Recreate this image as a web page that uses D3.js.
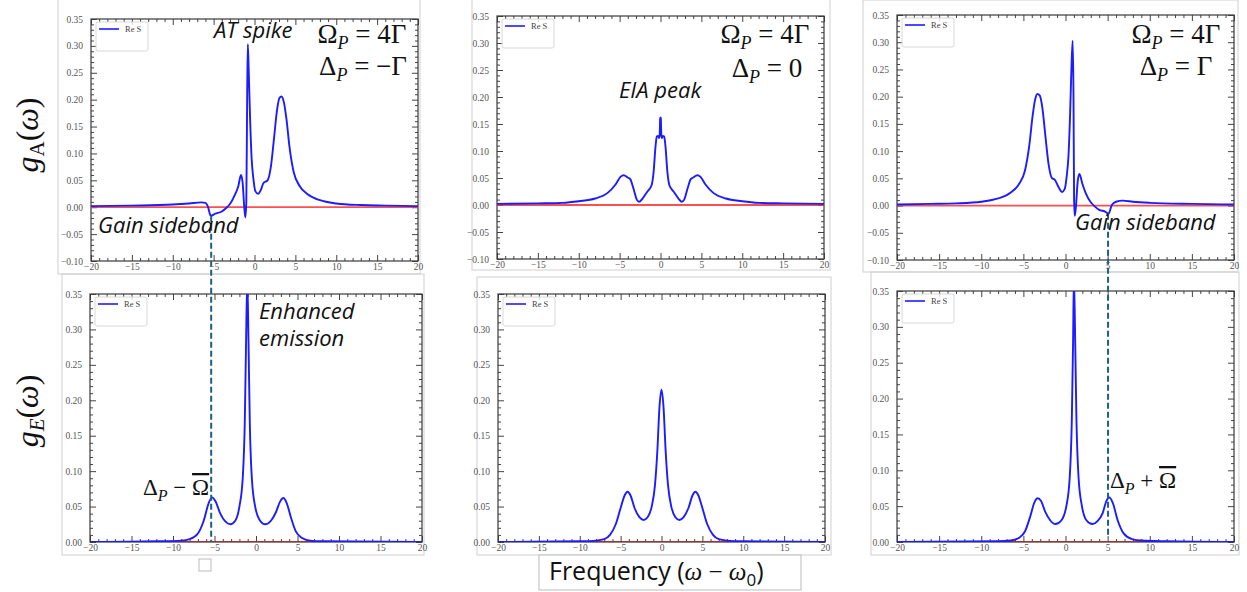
<!DOCTYPE html>
<html>
<head>
<meta charset="utf-8">
<script src="https://cdn.jsdelivr.net/npm/d3@7"></script>
<style>
  body { margin: 0; background: #fff; }
  .tick text { font-family: "Liberation Serif", serif; font-size: 9.5px; fill: #555; }
  .tick line { stroke: #444; }
  .ann { font-family: "Open Sans", sans-serif; font-style: italic; font-size: 22px; fill: #111; }
  .mth { font-family: "Liberation Serif", serif; font-size: 27px; fill: #111; }
</style>
</head>
<body>
<script>
// spectra, [omega - omega0, Re S]
var zeroLine = [[-20, 0], [20, 0]];

var gA_minus = [[-20,0.002],[-15,0.003],[-10,0.005],[-8,0.007],[-6.5,0.009],[-6,0.008],[-5.7,0.001],
  [-5.35,-0.016],[-4.8,-0.012],[-4,-0.008],[-3.5,-0.002],[-3,0.006],[-2.4,0.023],[-2,0.038],[-1.65,0.06],
  [-1.45,0.045],[-1.25,0.0],[-1.12,-0.019],[-1.0,0.01],[-0.9,0.2],[-0.82,0.303],[-0.7,0.25],[-0.55,0.17],
  [-0.35,0.09],[-0.15,0.055],[0.1,0.03],[0.45,0.025],[0.8,0.033],[1.1,0.045],[1.6,0.05],[2.0,0.075],
  [2.4,0.13],[2.75,0.18],[3.05,0.203],[3.3,0.206],[3.6,0.195],[3.9,0.165],[4.3,0.11],[4.8,0.065],
  [5.5,0.04],[6.5,0.024],[8,0.013],[10,0.007],[13,0.004],[16,0.003],[20,0.002]];

var gA_zero = [[-20,0.002],[-15,0.003],[-12,0.004],[-10,0.007],[-8,0.012],[-6.5,0.022],[-5.5,0.038],
  [-4.9,0.052],[-4.5,0.055],[-4.0,0.051],[-3.7,0.048],[-3.3,0.03],[-2.9,0.01],[-2.6,0.006],[-2.2,0.012],
  [-1.6,0.025],[-1.1,0.036],[-0.85,0.06],[-0.6,0.11],[-0.45,0.127],[-0.3,0.128],[-0.18,0.124],[-0.1,0.13],
  [-0.04,0.16],[0,0.162],[0.04,0.16],[0.1,0.13],[0.18,0.124],[0.3,0.128],[0.45,0.127],[0.6,0.11],
  [0.85,0.06],[1.1,0.036],[1.6,0.025],[2.2,0.012],[2.6,0.006],[2.9,0.01],[3.3,0.03],[3.7,0.048],
  [4.0,0.051],[4.5,0.055],[4.9,0.052],[5.5,0.038],[6.5,0.022],[8,0.012],[10,0.007],[12,0.004],
  [15,0.003],[20,0.002]];

var gA_plus = [[-20,0.002],[-16,0.003],[-13,0.004],[-10,0.007],[-8,0.013],[-6.5,0.024],[-5.5,0.04],
  [-4.8,0.065],[-4.3,0.11],[-3.9,0.165],[-3.6,0.195],[-3.35,0.205],[-3.05,0.202],[-2.75,0.18],[-2.4,0.13],
  [-2.0,0.075],[-1.6,0.05],[-1.3,0.048],[-0.8,0.033],[-0.4,0.025],[-0.1,0.03],[0.15,0.055],[0.35,0.09],
  [0.55,0.17],[0.7,0.25],[0.85,0.303],[0.95,0.2],[1.02,0.01],[1.1,-0.019],[1.25,0.0],[1.45,0.045],
  [1.65,0.058],[2.0,0.04],[2.4,0.023],[3.0,0.006],[3.5,-0.002],[4.0,-0.008],[4.7,-0.011],[5.1,-0.015],
  [5.5,0.001],[6,0.007],[6.8,0.009],[8,0.007],[10,0.005],[15,0.003],[20,0.002]];

var gE_minus = [[-20,0],[-12,0.001],[-9,0.002],[-8,0.004],[-7,0.012],[-6.3,0.03],[-5.7,0.055],[-5.3,0.063],
  [-4.9,0.058],[-4.3,0.04],[-3.7,0.029],[-3.1,0.025],[-2.5,0.03],[-2.0,0.05],[-1.6,0.09],[-1.35,0.17],
  [-1.2,0.28],[-1.05,0.37],[-0.9,0.28],[-0.75,0.17],[-0.5,0.09],[-0.1,0.05],[0.5,0.03],[1.1,0.025],
  [1.8,0.03],[2.4,0.042],[2.9,0.057],[3.3,0.062],[3.7,0.055],[4.2,0.035],[4.8,0.015],[5.5,0.006],
  [6.5,0.002],[8,0.001],[20,0]];

var gE_zero = [[-20,0],[-10,0.001],[-8,0.002],[-7,0.004],[-6.3,0.01],[-5.6,0.025],[-5.0,0.048],[-4.5,0.066],
  [-4.15,0.071],[-3.8,0.066],[-3.3,0.048],[-2.7,0.035],[-2.2,0.031],[-1.7,0.035],[-1.2,0.05],[-0.8,0.08],
  [-0.5,0.13],[-0.25,0.19],[0,0.215],[0.25,0.19],[0.5,0.13],[0.8,0.08],[1.2,0.05],[1.7,0.035],[2.2,0.031],
  [2.7,0.035],[3.3,0.048],[3.8,0.066],[4.15,0.071],[4.5,0.066],[5.0,0.048],[5.6,0.025],[6.3,0.01],
  [7,0.004],[8,0.002],[10,0.001],[20,0]];

var gE_plus = [[-20,0],[-8,0.001],[-6.5,0.002],[-5.5,0.006],[-4.8,0.015],[-4.2,0.035],[-3.7,0.055],
  [-3.3,0.061],[-2.9,0.057],[-2.4,0.042],[-1.8,0.03],[-1.2,0.025],[-0.5,0.03],[0.1,0.05],[0.5,0.09],
  [0.75,0.17],[0.9,0.28],[1.0,0.37],[1.15,0.28],[1.3,0.17],[1.55,0.09],[1.95,0.05],[2.5,0.03],
  [3.2,0.025],[3.8,0.029],[4.4,0.04],[4.85,0.057],[5.2,0.062],[5.6,0.055],[6.2,0.03],[6.9,0.012],
  [7.9,0.004],[9,0.002],[12,0.001],[20,0]];

// ticks
var xMajor = [-20, -15, -10, -5, 0, 5, 10, 15, 20];
var yMajorA = [-0.10, -0.05, 0.00, 0.05, 0.10, 0.15, 0.20, 0.25, 0.30, 0.35];
var yMajorE = [0.00, 0.05, 0.10, 0.15, 0.20, 0.25, 0.30, 0.35];
var legendLabel = "Re S";

var width = 1247, height = 592;

var svg = d3.select("body").append("svg")
    .attr("width", width)
    .attr("height", height);

// the pasted-image frames
var frames = [[58,-2,420,274],[472,-2,830,270],[863,0,1238,272],
              [62,274,424,555],[477,277,831,555],[871,272,1239,555]];
frames.forEach(function(f) {
    svg.append("rect")
        .attr("x", f[0]).attr("y", f[1])
        .attr("width", f[2]-f[0]).attr("height", f[3]-f[1])
        .attr("fill", "none").attr("stroke", "#cfcfcf").attr("stroke-width", 1);
});
svg.append("rect").attr("x", 199).attr("y", 559).attr("width", 12).attr("height", 12)
    .attr("fill", "none").attr("stroke", "#bbb");

var panels = [
    {id:"tl", data:gA_minus, x0:91,  x1:418,  y0:19,  y1:261, yDom:[-0.10,0.35], yTicks:yMajorA},
    {id:"tm", data:gA_zero,  x0:497, x1:824,  y0:16,  y1:259, yDom:[-0.10,0.35], yTicks:yMajorA},
    {id:"tr", data:gA_plus,  x0:897, x1:1234, y0:15,  y1:260, yDom:[-0.10,0.35], yTicks:yMajorA},
    {id:"bl", data:gE_minus, x0:90,  x1:422,  y0:294, y1:542, yDom:[0,0.35],     yTicks:yMajorE},
    {id:"bm", data:gE_zero,  x0:498, x1:825,  y0:294, y1:542, yDom:[0,0.35],     yTicks:yMajorE},
    {id:"br", data:gE_plus,  x0:897, x1:1234, y0:291, y1:542, yDom:[0,0.35],     yTicks:yMajorE}
];

var minus = function(s) { return s.replace("-", "\u2212"); };

panels.forEach(function(p) {
    var x = d3.scaleLinear().domain([-20, 20]).range([p.x0, p.x1]);
    var y = d3.scaleLinear().domain(p.yDom).range([p.y1, p.y0]);
    p.x = x; p.y = y;

    var xMinor = d3.range(-20, 21, 1).filter(function(v) { return v % 5 != 0; });
    var yMinor = d3.range(Math.round(p.yDom[0]*100), 36, 1).map(function(v) { return v/100; })
        .filter(function(v) { return Math.round(v*100) % 5 != 0; });

    var g = svg.append("g");

    g.append("clipPath").attr("id", "clip-" + p.id)
      .append("rect").attr("x", p.x0).attr("y", p.y0)
      .attr("width", p.x1 - p.x0).attr("height", p.y1 - p.y0);

    // major + minor ticks, all sides, pointing in
    g.append("g").attr("transform", "translate(0," + p.y1 + ")")
        .call(d3.axisBottom(x).tickValues(xMajor).tickSize(-6).tickSizeOuter(0).tickPadding(2)
              .tickFormat(function(d) { return minus(d3.format("d")(d)); }));
    g.append("g").attr("transform", "translate(0," + p.y1 + ")")
        .call(d3.axisBottom(x).tickValues(xMinor).tickSize(-3).tickSizeOuter(0).tickFormat(""));
    g.append("g").attr("transform", "translate(0," + p.y0 + ")")
        .call(d3.axisTop(x).tickValues(xMajor).tickSize(-6).tickSizeOuter(0).tickFormat(""));
    g.append("g").attr("transform", "translate(0," + p.y0 + ")")
        .call(d3.axisTop(x).tickValues(xMinor).tickSize(-3).tickSizeOuter(0).tickFormat(""));
    g.append("g").attr("transform", "translate(" + p.x0 + ",0)")
        .call(d3.axisLeft(y).tickValues(p.yTicks).tickSize(-6).tickSizeOuter(0).tickPadding(8)
              .tickFormat(function(d) { return minus(d3.format(".2f")(d)); }));
    g.append("g").attr("transform", "translate(" + p.x0 + ",0)")
        .call(d3.axisLeft(y).tickValues(yMinor).tickSize(-3).tickSizeOuter(0).tickFormat(""));
    g.append("g").attr("transform", "translate(" + p.x1 + ",0)")
        .call(d3.axisRight(y).tickValues(p.yTicks).tickSize(-6).tickSizeOuter(0).tickFormat(""));
    g.append("g").attr("transform", "translate(" + p.x1 + ",0)")
        .call(d3.axisRight(y).tickValues(yMinor).tickSize(-3).tickSizeOuter(0).tickFormat(""));
    g.selectAll(".domain").remove();

    g.append("rect")
        .attr("x", p.x0).attr("y", p.y0)
        .attr("width", p.x1 - p.x0).attr("height", p.y1 - p.y0)
        .attr("fill", "none").attr("stroke", "#3a3a3a").attr("stroke-width", 1.2);

    var line = d3.line()
        .x(function(d) { return x(d[0]); })
        .y(function(d) { return y(d[1]); })
        .curve(d3.curveMonotoneX);

    var plot = g.append("g").attr("clip-path", "url(#clip-" + p.id + ")");
    plot.append("path").datum(zeroLine)
        .attr("d", line).attr("fill", "none")
        .attr("stroke", p.yDom[0] < 0 ? "#ff3030" : "#b02020")
        .attr("stroke-width", 1.8).attr("opacity", 0.85);
    plot.append("path").datum(p.data)
        .attr("d", line).attr("fill", "none")
        .attr("stroke", "#1c1cff").attr("stroke-width", 1.9);

    // legend
    var lg = g.append("g").attr("transform", "translate(" + (p.x0 + 5) + "," + (p.y0 + 3) + ")");
    lg.append("rect").attr("width", 52).attr("height", 29).attr("rx", 2)
        .attr("fill", "#fff").attr("fill-opacity", 0.8).attr("stroke", "#d8d8d8");
    lg.append("line").attr("x1", 3).attr("x2", 23).attr("y1", 7).attr("y2", 7)
        .attr("stroke", "#1c1cff").attr("stroke-width", 1.6);
    lg.append("text").attr("x", 29).attr("y", 10)
        .style("font-family", "Liberation Serif, serif").style("font-size", "8.5px").style("fill", "#444")
        .text(legendLabel);
});

// dashed guides linking the sidebands to the emission peaks
var P = {};
panels.forEach(function(p) { P[p.id] = p; });
svg.append("line")
    .attr("x1", P.tl.x(-5.3)).attr("x2", P.tl.x(-5.3))
    .attr("y1", P.tl.y(-0.016)).attr("y2", P.bl.y(0))
    .attr("stroke", "#1f5f80").attr("stroke-width", 2).attr("stroke-dasharray", "6,3");
svg.append("line")
    .attr("x1", P.br.x(5.05)).attr("x2", P.br.x(5.05))
    .attr("y1", P.tr.y(-0.015)).attr("y2", P.br.y(0.008))
    .attr("stroke", "#1f5f80").attr("stroke-width", 2).attr("stroke-dasharray", "6,3");

// annotations
function ann(x, y, txt, anchor) {
    svg.append("text").attr("class", "ann").attr("x", x).attr("y", y)
        .attr("text-anchor", anchor || "start").text(txt);
}
ann(214, 38, "AT spike");
ann(98, 233, "Gain sideband");
ann(619, 98, "EIA peak");
ann(1075, 230, "Gain sideband");
ann(259, 319, "Enhanced");
ann(259, 346, "emission");

function mathLine(cx, y, sym, rhs) {
    var t = svg.append("text").attr("class", "mth").attr("x", cx).attr("y", y)
        .attr("text-anchor", "middle");
    t.append("tspan").text(sym);
    t.append("tspan").attr("dy", 6).style("font-style", "italic").style("font-size", "18px").text("P");
    t.append("tspan").attr("dy", -6).text(" = " + rhs);
}
mathLine(362, 43, "\u03a9", "4\u0393");
mathLine(363, 75, "\u0394", "\u2212\u0393");
mathLine(765, 43, "\u03a9", "4\u0393");
mathLine(767, 77, "\u0394", "0");
mathLine(1176, 43, "\u03a9", "4\u0393");
mathLine(1176, 75, "\u0394", "\u0393");

function sideLabel(x, y, op) {
    var t = svg.append("text").attr("class", "mth").attr("x", x).attr("y", y)
        .style("font-size", "23px");
    t.append("tspan").text("\u0394");
    t.append("tspan").attr("dy", 6).style("font-style", "italic").style("font-size", "16px").text("P");
    t.append("tspan").attr("dy", -6).text(" " + op + " ");
    t.append("tspan").style("text-decoration", "overline").text("\u03a9");
}
sideLabel(143, 495, "\u2212");
sideLabel(1110, 488, "+");

// axis titles
function yTitle(cx, cy, sub, subItalic) {
    var t = svg.append("text")
        .attr("transform", "translate(" + cx + "," + cy + ") rotate(-90)")
        .attr("text-anchor", "middle")
        .style("font-family", "Liberation Serif, serif").style("font-size", "32px").style("fill", "#111");
    t.append("tspan").style("font-style", "italic").text("g");
    t.append("tspan").attr("dy", 6).style("font-size", "21px")
        .style("font-style", subItalic ? "italic" : "normal").text(sub);
    t.append("tspan").attr("dy", -6).text("(");
    t.append("tspan").style("font-style", "italic").text("\u03c9");
    t.append("tspan").text(")");
}
yTitle(38, 135, "A", false);
yTitle(38, 411, "E", true);

svg.append("rect").attr("x", 539).attr("y", 555).attr("width", 262).attr("height", 35)
    .attr("fill", "#fff").attr("stroke", "#bbb");
var ft = svg.append("text").attr("x", 549).attr("y", 580)
    .style("font-family", "Open Sans, sans-serif").style("font-size", "25px").style("fill", "#111");
ft.append("tspan").text("Frequency (");
ft.append("tspan").style("font-family", "Liberation Serif, serif").style("font-style", "italic").text("\u03c9");
ft.append("tspan").style("font-family", "Liberation Serif, serif").text(" \u2212 ");
ft.append("tspan").style("font-family", "Liberation Serif, serif").style("font-style", "italic").text("\u03c9");
ft.append("tspan").attr("dy", 6).style("font-size", "17px").text("0");
ft.append("tspan").attr("dy", -6).text(")");
</script>
</body>
</html>
